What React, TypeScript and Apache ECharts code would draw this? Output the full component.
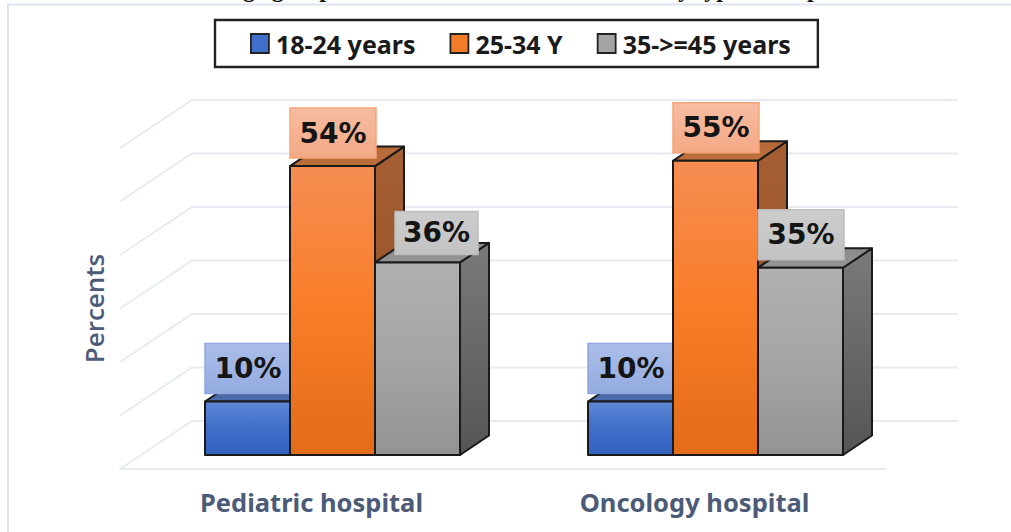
import React, { useEffect, useRef } from "react";
import * as echarts from "echarts";

const hospitals = ["Pediatric hospital", "Oncology hospital"];
const ageGroups = ["18-24 years", "25-34 Y", "35->=45 years"];
const youngest = [10, 10];
const middle = [54, 55];
const oldest = [36, 35];
const wallTicks = [0, 10, 20, 30, 40, 50, 60];

const BAR_WIDTH = 85;
// Bars stand inside the floor: shift from the front edge, then their own depth.
const INSET_X = 21;
const INSET_Y = -14;
const DEPTH_X = 29;
const DEPTH_Y = -19.5;
const FLOOR_X = 72;
const FLOOR_Y = -48;
const EDGE = "#1a1a1a";

const gradient = (stops: string[]) =>
  new echarts.graphic.LinearGradient(
    0,
    0,
    0,
    1,
    stops.map((color, i) => ({ offset: i / (stops.length - 1), color }))
  );

const palette = [
  {
    swatch: "#3F6FCB",
    front: ["#5F88D6", "#3E6EC9", "#3162BD"],
    top: ["#44619C", "#4C6CAB"],
    side: ["#3A5A98", "#2C4A85"],
    label: ["#ABBEE8", "#94ABE0"],
    labelEdge: "#8EA7E0",
  },
  {
    swatch: "#F47B28",
    front: ["#F58D52", "#F97D28", "#E26C18"],
    top: ["#B5693A", "#BE6F3A"],
    side: ["#A55F33", "#8F4B1C"],
    label: ["#F6BCA2", "#F5A985"],
    labelEdge: "#F6A476",
  },
  {
    swatch: "#A5A5A5",
    front: ["#B1B1B1", "#A5A5A5", "#939393"],
    top: ["#8A8A8A", "#949494"],
    side: ["#7A7A7A", "#555555"],
    label: ["#CDCDCD", "#C2C2C2"],
    labelEdge: "#BDBDBD",
  },
];

// The 36% tag sits further right and is a little shorter than the others.
const tagShift: Record<string, { dx: number; height: number; width: number }> = {
  "2-0": { dx: 20, height: 43, width: 83 },
};

const pts = (...list: number[][]) => ({ points: list });

function barItem(seriesIndex: number) {
  return (params: any, api: any) => {
    const cat = api.value(0);
    const value = api.value(1);
    const style = palette[seriesIndex];
    const topPoint = api.coord([cat, value]);
    const basePoint = api.coord([cat, 0]);
    const x0 = topPoint[0] + INSET_X + (seriesIndex - 1.5) * BAR_WIDTH;
    const x1 = x0 + BAR_WIDTH;
    const yTop = topPoint[1] + INSET_Y;
    const yBase = basePoint[1] + INSET_Y;
    const shift = tagShift[`${seriesIndex}-${cat}`] || { dx: 0, height: 50, width: 86 };
    const tagBottom = yTop - 8;
    const edge = { stroke: EDGE, lineWidth: 2, lineJoin: "round" };
    return {
      type: "group",
      children: [
        {
          type: "polygon",
          shape: pts([x1, yTop], [x1 + DEPTH_X, yTop + DEPTH_Y], [x1 + DEPTH_X, yBase + DEPTH_Y], [x1, yBase]),
          style: { fill: gradient(style.side), ...edge },
        },
        {
          type: "polygon",
          shape: pts([x0, yTop], [x1, yTop], [x1 + DEPTH_X, yTop + DEPTH_Y], [x0 + DEPTH_X, yTop + DEPTH_Y]),
          style: { fill: gradient(style.top), ...edge },
        },
        {
          type: "rect",
          shape: { x: x0, y: yTop, width: BAR_WIDTH, height: yBase - yTop },
          style: { fill: gradient(style.front), ...edge },
        },
        {
          type: "rect",
          z2: 20,
          shape: { x: x0 + shift.dx, y: tagBottom - shift.height, width: shift.width, height: shift.height },
          style: { fill: gradient(style.label), stroke: style.labelEdge, lineWidth: 1.5 },
        },
        {
          type: "text",
          z2: 21,
          style: {
            x: x0 + shift.dx + shift.width / 2,
            y: tagBottom - shift.height / 2,
            text: `${value}%`,
            align: "center",
            verticalAlign: "middle",
            font: 'bold 28px "DejaVu Sans"',
            fill: "#151515",
          },
        },
      ],
    };
  };
}

function wallItem(params: any, api: any) {
  const y = api.coord([0, api.value(1)])[1];
  const left = params.coordSys.x;
  const right = left + params.coordSys.width;
  return {
    type: "polyline",
    shape: pts([left, y], [left + FLOOR_X, y + FLOOR_Y], [right + FLOOR_X, y + FLOOR_Y]),
    style: { fill: "none", stroke: "#E6EAF1", lineWidth: 2 },
  };
}

const barSeries = (name: string, values: number[], index: number) => ({
  name,
  type: "custom",
  renderItem: barItem(index),
  data: values.map((v, i) => [i, v]),
  encode: { x: 0, y: 1 },
  itemStyle: { color: palette[index].swatch },
  z: 3 + index,
  silent: true,
});

export default function App() {
  const ref = useRef<HTMLDivElement>(null);

  useEffect(() => {
    const chart = echarts.init(ref.current!, undefined, { renderer: "svg" });
    chart.setOption({
      animation: false,
      backgroundColor: "#fff",
      grid: { left: 120, right: 125, top: 148, bottom: 63 },
      legend: {
        data: ageGroups,
        left: 215,
        top: 20,
        padding: [11, 27, 11, 35],
        borderColor: "#222",
        borderWidth: 2.4,
        itemGap: 34,
        itemWidth: 18,
        itemHeight: 19,
        icon: "rect",
        selectedMode: false,
        itemStyle: { borderColor: "#222", borderWidth: 1.8 },
        textStyle: {
          fontFamily: "Noto Sans",
          fontWeight: "bold",
          fontSize: 25,
          color: "#1a1a1a",
          padding: [0, 0, 0, 2],
        },
      },
      xAxis: {
        type: "category",
        data: hospitals,
        axisTick: { show: false },
        axisLine: { lineStyle: { color: "#E6EAF1", width: 2 } },
        axisLabel: {
          margin: 20,
          fontFamily: "Noto Sans",
          fontWeight: "bold",
          fontSize: 25.5,
          color: "#4C5C78",
        },
      },
      yAxis: {
        type: "value",
        min: 0,
        max: 60,
        interval: 10,
        name: "Percents",
        nameLocation: "middle",
        nameGap: 13,
        nameTextStyle: { fontFamily: "Open Sans", fontWeight: 600, fontSize: 26, color: "#4C5C78" },
        axisLabel: { show: false },
        axisLine: { show: false },
        axisTick: { show: false },
        splitLine: { show: false },
      },
      graphic: [
        {
          type: "polyline",
          shape: pts([8, 533], [8, 4.5], [1012, 4.5]),
          style: { fill: "none", stroke: "#DEE4EE", lineWidth: 2 },
        },
        {
          type: "text",
          x: 231,
          y: -23,
          style: { text: "age group", font: 'bold 24px "Liberation Serif"', fill: "#111" },
        },
        {
          type: "text",
          x: 665,
          y: -23,
          style: { text: "by type of hospital", font: 'bold 24px "Liberation Serif"', fill: "#111" },
        },
      ],
      series: [
        {
          name: "wall",
          type: "custom",
          renderItem: wallItem,
          data: wallTicks.map((v) => [0, v]),
          encode: { x: 0, y: 1 },
          z: 1,
          silent: true,
        },
        barSeries(ageGroups[0], youngest, 0),
        barSeries(ageGroups[1], middle, 1),
        barSeries(ageGroups[2], oldest, 2),
      ],
    });
    return () => chart.dispose();
  }, []);

  return (
    <div
      ref={ref}
      style={{ position: "absolute", left: 0, top: 0, width: 1011, height: 532 }}
    />
  );
}
